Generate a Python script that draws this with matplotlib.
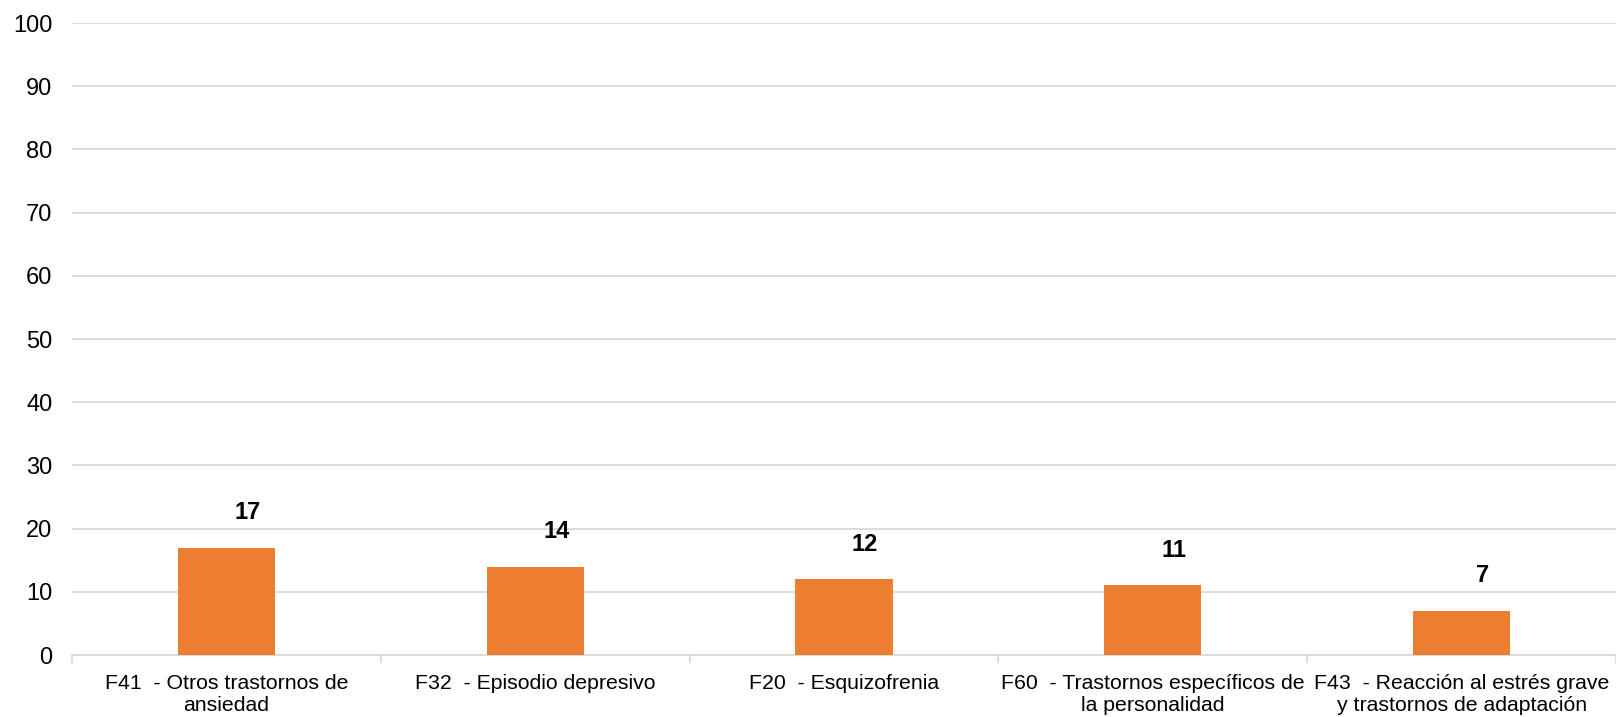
import matplotlib
matplotlib.use("Agg")
import matplotlib.pyplot as plt
import numpy as np

categories = [
    "F41  - Otros trastornos de\nansiedad",
    "F32  - Episodio depresivo",
    "F20  - Esquizofrenia",
    "F60  - Trastornos específicos de\nla personalidad",
    "F43  - Reacción al estrés grave\ny trastornos de adaptación",
]
values = [17, 14, 12, 11, 7]
yticks = [0, 10, 20, 30, 40, 50, 60, 70, 80, 90, 100]

plt.rcParams['font.family'] = ['Liberation Sans', 'DejaVu Sans']

fig = plt.figure(figsize=(16.16, 7.17), dpi=100)
ax = fig.add_axes([72/1616, 1-655/717, 1-72/1616, (655-23)/717])

x = np.arange(len(categories))
bars = ax.bar(x, values, width=0.315, color='#ED7D31', zorder=3)

ax.set_xlim(-0.5, len(categories) - 0.5)
ax.set_ylim(0, 100)
ax.set_yticks(yticks)
ax.yaxis.grid(True, color='#D9D9D9', linewidth=1.3, zorder=0)
ax.tick_params(axis='y', length=0, labelsize=17, pad=14)

ax.set_xticks(x)
ax.set_xticklabels(categories, fontsize=15.3, linespacing=1.2)
ax.tick_params(axis='x', which='major', length=0, pad=14)
ax.set_xticks(np.arange(len(categories) + 1) - 0.5, minor=True)
ax.tick_params(axis='x', which='minor', length=6, color='#D9D9D9', width=1.3)

for s in ['top', 'right', 'left']:
    ax.spines[s].set_visible(False)
ax.spines['bottom'].set_color('#D9D9D9')
ax.spines['bottom'].set_linewidth(1.3)

for xi, v in zip(x, values):
    ax.annotate(str(v), (xi, v), xytext=(21, 35), textcoords='offset pixels',
                ha='center', va='center', fontsize=17, fontweight='bold')

fig.savefig('out.png', dpi=100)
